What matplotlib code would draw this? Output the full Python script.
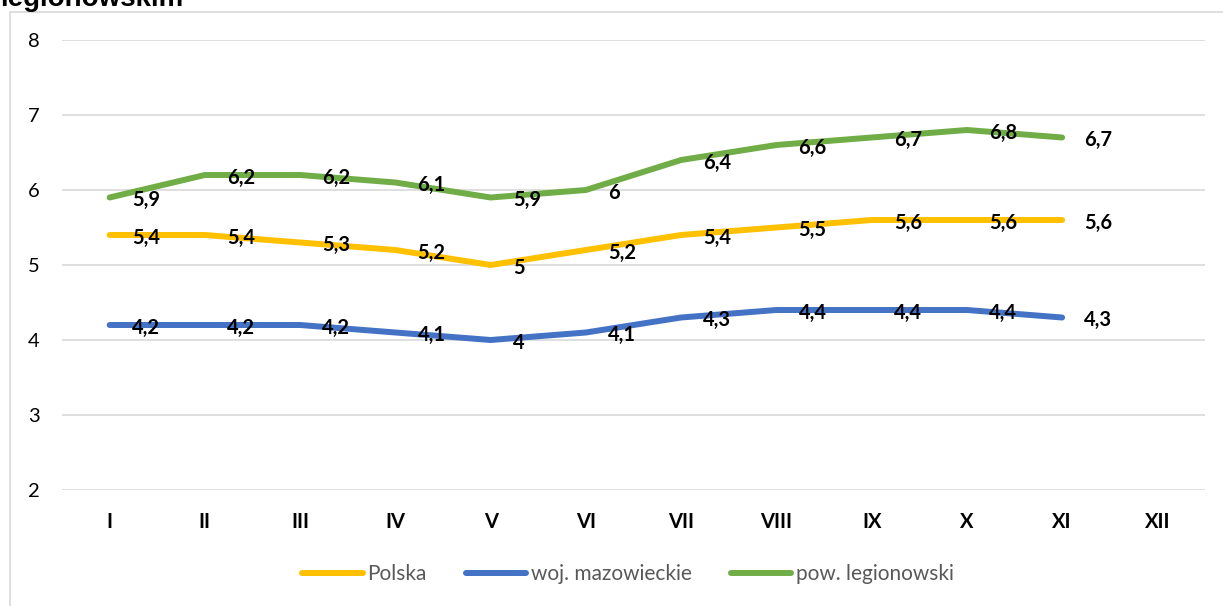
import matplotlib

matplotlib.use("Agg")
import matplotlib.pyplot as plt
from matplotlib.patches import Rectangle

months = ["I", "II", "III", "IV", "V", "VI", "VII", "VIII", "IX", "X", "XI", "XII"]
polska = [5.4, 5.4, 5.3, 5.2, 5.0, 5.2, 5.4, 5.5, 5.6, 5.6, 5.6]
mazowieckie = [4.2, 4.2, 4.2, 4.1, 4.0, 4.1, 4.3, 4.4, 4.4, 4.4, 4.3]
legionowski = [5.9, 6.2, 6.2, 6.1, 5.9, 6.0, 6.4, 6.6, 6.7, 6.8, 6.7]
y_ticks = [2, 3, 4, 5, 6, 7, 8]

series = [
    ("Polska", polska, "#FFC000"),
    ("woj. mazowieckie", mazowieckie, "#4472C4"),
    ("pow. legionowski", legionowski, "#70AD47"),
]

W, H = 1223, 606
plt.rcParams["font.family"] = ["Lato", "DejaVu Sans"]

fig = plt.figure(figsize=(W / 100, H / 100), dpi=100)

# chart area border (cut off by the crop at right and bottom)
fig.patches.append(Rectangle((10 / W, -0.1), 1.2, 1 - 12 / H + 0.1,
                             transform=fig.transFigure, fill=False,
                             edgecolor="#D9D9D9", linewidth=1.2))

# title, mostly cut off at the top as in the source
fig.text(0, 1 - 6 / H, "legionowskim", fontsize=20, fontweight="bold",
         family="Liberation Sans", ha="left", va="baseline")

ax = fig.add_axes([62 / W, 1 - 490 / H, 1143 / W, 450 / H])
x = list(range(len(months)))

for name, vals, color in series:
    ax.plot(x[:len(vals)], vals, color=color, linewidth=4.3,
            solid_capstyle="round", label=name, zorder=3)
    for xi, v in zip(x, vals):
        ax.annotate(f"{v:g}".replace(".", ","), (xi, v), xytext=(16, -2),
                    textcoords="offset points", ha="left", va="center",
                    fontsize=14.5, fontweight="bold", color="black", zorder=4)

ax.set_xlim(-0.5, len(months) - 0.5)
ax.set_ylim(2, 8)
ax.set_yticks(y_ticks)
ax.set_xticks(x)
ax.set_xticklabels(months, fontweight="bold", fontsize=15)
ax.tick_params(axis="both", length=0, labelsize=14.5)
ax.tick_params(axis="y", pad=16)
ax.tick_params(axis="x", pad=16)
ax.grid(axis="y", color="#D9D9D9", linewidth=1.2)
ax.set_axisbelow(True)
for s in ax.spines.values():
    s.set_visible(False)

fig.legend(loc="center", bbox_to_anchor=(628 / W, 1 - 574 / H), ncol=3,
           frameon=False, fontsize=15, handlelength=2.9, handletextpad=0.2,
           columnspacing=1.9, labelcolor="#595959")

fig.savefig("out.png", dpi=100)
